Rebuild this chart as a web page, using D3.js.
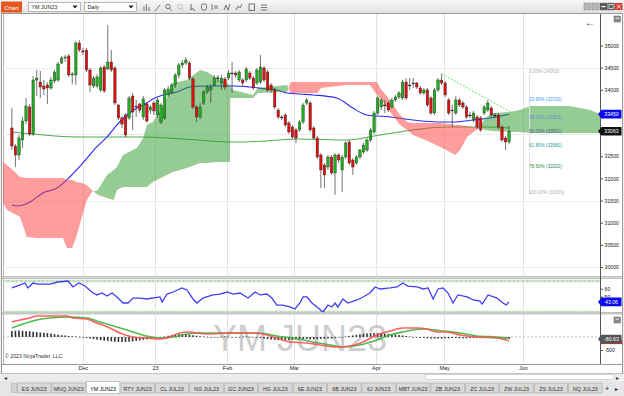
<!DOCTYPE html>
<html><head><meta charset="utf-8">
<script src="https://cdn.jsdelivr.net/npm/d3@7"></script>
<style>body{margin:0;background:#f0f0f0;overflow:hidden}svg{display:block;font-family:"Liberation Sans",Arial,sans-serif}</style>
</head><body><svg id="c" width="624" height="396"></svg>
<script>
// ---------------- DATA ----------------
const barO = [33138,32731,32528,32867,33296,33612,33002,34221,34176,34086,34108,34041,34199,34221,34605,34718,34763,34334,34334,35056,34876,34898,34447,34086,34086,33996,34515,34470,34628,34492,33657,33364,33431,33364,33860,33634,33680,33386,33680,33544,33702,33431,33273,33364,33883,33950,34108,34334,34560,34605,34605,34244,33612,33386,33702,33950,33996,34108,34266,34154,34244,34266,34379,34379,34221,34221,34221,34379,34266,34154,34176,34492,34402,34108,33996,33544,33386,33431,33251,33160,33093,33093,33273,33702,33702,33138,32912,32528,32303,32257,32483,32122,32528,32190,32483,32822,32415,32348,32483,32596,32641,32867,33048,33476,33612,33657,33702,33612,33770,33838,33815,34176,34108,34154,34154,34041,33928,33996,33815,33476,33996,34221,34154,33770,33544,33476,33770,33702,33612,33431,33318,33386,33364,33476,33544,33589,33431,33431,33160,32912,32822];
const barH = [33589,32777,32980,33386,33815,33680,34312,34447,34424,34221,34176,34289,34447,34628,34763,34786,34808,34402,35102,35124,34944,34944,34492,34312,34357,34537,34560,35463,34898,34537,33680,33409,33476,33860,33928,33770,33702,33860,33725,33657,33747,33815,33702,34041,34086,34154,34379,34605,34673,34740,34650,34289,33657,33702,33996,34108,34131,34334,34334,34334,34289,34447,34628,34424,34447,34266,34515,34424,34312,34492,34786,34537,34447,34154,34041,33589,33431,33476,33296,33206,33138,33318,33702,33815,33747,33183,32957,32573,32348,32528,32528,32573,32573,32528,32844,32867,32461,32528,32664,32799,32912,33138,33522,33860,33815,33770,33747,33815,33883,33973,34221,34266,34266,34266,34176,34086,34041,34041,33860,34041,34266,34363,34199,33815,33657,33860,33815,33747,33657,33499,33522,33431,33409,33657,33770,33634,33476,33476,33206,32957,33183];
const barL = [32641,32257,32415,32686,33228,32957,32957,33860,33815,33883,33680,33996,34154,34176,34582,34628,34289,34131,34108,34853,34786,34402,33950,34041,34041,33950,33928,34447,34402,33657,33318,33138,32935,33318,33093,33386,33476,33318,33251,33454,33431,33364,33228,33318,33838,33905,34041,34266,34492,34560,34221,33567,33273,33341,33657,33905,33702,34063,34176,33996,33996,34221,33928,34266,34176,34086,34176,34221,33996,34108,34131,34176,33950,33928,33567,33341,33318,33160,33002,32890,32799,33048,33228,33657,33048,32867,32438,31783,31783,32190,32077,31630,32348,31693,32438,32303,32077,32303,32438,32551,32596,32822,33002,33431,33544,33476,33499,33567,33725,33792,33770,33770,33996,34041,34018,33883,33883,33612,33431,33431,33950,34108,33838,33431,33160,33431,33612,33567,33341,33364,33273,33115,33048,33431,33499,33386,33364,33115,32822,32641,32777];
const barC = [32731,32528,32912,33296,33634,33002,34221,34266,34063,34018,34041,34221,34402,34582,34718,34740,34334,34357,35056,34898,34853,34447,34108,34266,34289,34492,33973,34628,34447,33702,33364,33228,32980,33815,33499,33612,33544,33792,33296,33612,33522,33770,33657,33996,34018,34108,34334,34560,34605,34673,34266,33612,33386,33612,33950,34063,34063,34266,34270,34266,34063,34379,34370,34334,34402,34154,34470,34266,34041,34447,34515,34221,33996,33996,33612,33386,33380,33206,33048,32935,32912,33273,33657,33770,33093,32912,32483,32190,32077,32483,32122,32528,32415,32483,32799,32348,32257,32483,32641,32754,32867,33093,33476,33815,33770,33650,33544,33770,33838,33928,34176,33815,34100,34150,34063,33928,33996,33657,33476,33996,34221,34154,33883,33476,33540,33770,33657,33612,33386,33425,33476,33160,33093,33612,33702,33431,33420,33160,32867,32822,33063];

// Ichimoku cloud (senkou span A / B), bar index positions
const cloudIdx = [-2.5,-1.4,0.3,2.3,4.2,7,14.4,15.5,17,18.3,19.7,21.1,22.5,24.2,26.8,28.7,29.6,31.3,35.2,37,38,39.7,42.5,45.4,49.3,53,55,57.7,61.4,61.5,62.3,67.9,69.3,77.5,78.5,86,87,94.4,100.8,102.8,103.7,106.5,109.3,111.3,113,117.7,120.6,123.4,124.8,126.2,128.2,129.9,131.8,133.2,135.5,140.3,143,146,157,162.8,165.6];
const spanA = [31445,31287,31219,31129,30677,30655,30655,30429,30429,30722,31129,31513,31693,31738,32077,32190,32257,32528,32686,32912,33206,33273,33612,34154,34221,34447,34402,34266,34108,34086,33996,33883,34041,34108,33928,33928,34041,34108,34108,33883,33815,33499,33206,33093,32980,32822,32709,32596,32528,32641,32935,33048,33138,33364,33476,33499,33544,33634,33634,33544,33454];
const spanB = [32370,32303,32190,32032,32009,32009,32009,31964,31964,31919,31896,31852,31738,31625,31558,31513,31738,31806,31806,31806,31806,31919,32032,32145,32235,32348,32348,32370,32370,33815,33815,33815,33928,33950,34176,34176,34176,34176,34176,34176,34041,33770,33431,33273,33251,33251,33251,33228,33206,33206,33183,33160,33160,33093,33070,33048,33048,33025,33025,33025,33025];

// moving averages (blue = 50, green = 200)
const smaFastIdx = [0,1.7,5.1,8.7,12.7,16.3,20,23.9,26.8,29.6,32.4,35.2,38,39.7,42.5,46.5,50.1,54.9,62.3,67,71.8,74.6,77.5,81.1,84.8,91.5,96,100,106.5,113,119.7,124.2,129.9,134.6,140];
const smaFast = [31400,31377,31468,31671,31784,32032,32348,32709,32935,33206,33431,33589,33702,33792,33883,33950,34063,34086,34086,34063,34018,33996,33928,33905,33883,33815,33589,33431,33386,33318,33273,33273,33318,33364,33450];
const smaSlowIdx = [0,5.9,18.3,36,48.2,61.4,71.8,80.3,94.4,103.7,113,122.5,133.8,140];
const smaSlow = [33048,33002,32935,32935,32890,32822,32844,32890,32867,32980,33093,33160,33160,33138];

// trend line & fibonacci
const trendIdx = [121, 142.5];
const trendVal = [34363, 33409];
const fibPct = ["0.00%","23.60%","38.20%","50.00%","61.80%","78.60%","100.00%"];
const fibVal = [34363,33720,33323,33001,32680,32202,31630];
const fibColor = ["#b0b0b0","#3d9af0","#5a8fd0","#3f5f86","#2a9d8f","#2e8b57","#b0b0b0"];

// RSI
const rsiIdx = [0,1.4,3.7,4.5,5.9,7.3,10.7,13,15.8,17.2,18.9,20.6,22.5,23.9,25.4,26.8,28.2,29.6,31.3,32.7,34.1,36.1,38,41.7,42.3,43.7,45.4,47.9,49.3,51,52.1,53.8,56.6,58.6,60.6,62.3,64.2,66.5,68.5,69.9,71.8,73.2,74.6,76.3,78.3,79.7,81.1,82,83.1,84.5,85.9,87.6,89,90.1,91,91.8,93.2,94.6,97.2,98.9,100.8,102.3,103.7,106.5,108.5,110.1,111.5,114.1,115.8,117.2,118.6,120,121.4,122.8,124.2,125.6,128.2,129.9,131.8,132.4,134.1,136.6,138.3,139.2,140];
const rsiVal = [61,63.5,67.4,61,67.4,66,66,68.7,70,62.3,67.4,63.5,55.8,52,54.5,50.6,54.5,49.4,41.6,41.6,48,48,46.8,49.4,42.9,53.2,55.8,61,58.4,46.8,41.6,48,52,53.2,55.8,53.2,54.5,48,55.8,52,53.2,48,39,39,36.5,33.9,41.6,49.4,49.4,41.6,36.5,30,39,36.5,41.6,36.5,46.8,41.6,45.5,49.4,54.5,62.3,59.7,61,62.3,67.4,63.5,62.3,59.7,61,46.8,59.7,61,54.5,41.6,52,49.4,45.5,44.2,40.3,52,48,41.6,39,43.06];
const rsiTicks = [60,50];

// MACD
const macdIdx = [0,2.3,5.1,7,15.5,17.2,21.1,23.9,27.6,30.4,34.1,38,41.7,43.7,47.3,50.1,52.1,54.9,62.3,67.9,71.8,74.6,78.3,83.1,86.8,91.5,95.2,98.9,102.8,106.5,110.1,114.1,116.9,119.7,122.5,126.2,130.9,136.6,140];
const macdVal = [578,655,732,809,809,732,693,539,347,154,0,-39,-77,-39,154,193,154,116,154,154,77,-39,-193,-231,-308,-385,-347,-193,77,231,347,347,308,193,193,77,0,-39,-154];
const sigIdx = [0,3.1,7,10.7,16.3,21.1,24.8,29.6,34.1,38,41.7,45.4,49.3,53,62.3,69.9,74.6,79.1,84.8,89.6,93.2,98,102.8,106.5,110.1,115.7,121.4,126.2,130.9,136.6,140];
const sigVal = [347,501,655,732,770,732,578,385,193,39,-39,0,116,154,154,154,39,-39,-193,-308,-385,-308,-116,77,193,308,231,154,39,0,-39];
const histVal = [230,240,250,240,230,220,200,190,170,160,150,130,110,90,70,60,40,30,20,10,-20,-40,-60,-80,-100,-120,-140,-150,-170,-180,-190,-190,-190,-180,-170,-150,-130,-110,-90,-70,-50,-30,-10,20,50,80,100,110,110,100,90,70,50,30,20,10,0,-10,0,10,20,10,0,-10,0,10,20,10,0,-20,-40,-60,-80,-100,-110,-120,-120,-130,-120,-110,-100,-90,-80,-80,-90,-90,-80,-70,-70,-60,-60,-40,-20,0,20,40,60,80,100,120,140,150,150,150,140,130,120,110,100,80,60,40,20,0,-20,-30,-40,-50,-60,-60,-60,-60,-50,-50,-40,-40,-50,-50,-50,-40,-40,-40,-40,-30,-30,-40,-40,-50,-60,-70,-80.63];

// axes / labels (ticks hidden under the value tags are left out, as in the reference)
const priceTicks = [30000,30500,31000,31500,32000,32500,34000,34500,35000];
const priceGrid = [30000,31500,33000,34500];
const monthIdx = [20,40.3,60.6,79.4,102.5,121.7,143.9];
const monthLab = ["Dec","23","Feb","Mar","Apr","May","Jun"];
const tabs = ["ES JUN23","MNQ JUN23","YM JUN23","RTY JUN23","CL JUL23","NG JUL23","GC JUN23","HG JUL23","6E JUN23","6B JUN23","6J JUN23","MBT JUN23","ZB JUN23","ZC JUL23","ZW JUL23","ZS JUL23","NQ JUL23"];
const lastPrice = 33063, lastSma = 33450, lastRsi = 43.06, lastHist = -80.63;

// ---------------- DRAW ----------------
const svg = d3.select('#c');
const L = 3, R = 600;
const mainT = 14, mainB = 276, rsiT = 278, rsiB = 312.5, macdT = 314, macdB = 364;
const x = d3.scaleLinear().domain([-2.5,165.6]).range([L,R]);
const y = d3.scaleLinear().domain([30000,35000]).range([267,45.5]);
const yR = d3.scaleLinear().domain([30,70]).range([312,281]);
const yM = d3.scaleLinear().domain([-500,0]).range([350,337]);

const defs = svg.append('defs');
function clip(id,x0,y0,w,h){defs.append('clipPath').attr('id',id).append('rect').attr('x',x0).attr('y',y0).attr('width',w).attr('height',h);}
clip('cm',L,mainT,R-L,mainB-mainT); clip('cr',L,rsiT,R-L,rsiB-rsiT); clip('cmd',L,macdT,R-L,macdB-macdT);
const tg = defs.append('linearGradient').attr('id','tb').attr('x1',0).attr('x2',0).attr('y1',0).attr('y2',1);
tg.append('stop').attr('offset',0).attr('stop-color','#f7f7f7'); tg.append('stop').attr('offset',1).attr('stop-color','#e2e2e2');

// background & frames
svg.append('rect').attr('width',624).attr('height',396).attr('fill','#f0f0f0');
svg.append('rect').attr('x',0).attr('y',0).attr('width',624).attr('height',13).attr('fill','url(#tb)');
svg.append('rect').attr('x',1.5).attr('y',13.5).attr('width',621).attr('height',360).attr('fill','#fff').attr('stroke','#9a9a9a');
svg.append('line').attr('x1',3.5).attr('x2',3.5).attr('y1',14).attr('y2',364).attr('stroke','#b5b5b5');
[[276.5,278.5],[312.5,314]].forEach(([a,b])=>{
  svg.append('rect').attr('x',2).attr('y',a).attr('width',620).attr('height',b-a).attr('fill','#dcdcdc');
  svg.append('line').attr('x1',2).attr('x2',622).attr('y1',a).attr('y2',a).attr('stroke','#a8a8a8').attr('stroke-width',0.7);
  svg.append('line').attr('x1',2).attr('x2',622).attr('y1',b).attr('y2',b).attr('stroke','#a8a8a8').attr('stroke-width',0.7);
});
svg.append('line').attr('x1',2).attr('x2',622).attr('y1',364.5).attr('y2',364.5).attr('stroke','#9a9a9a');

// vertical grid
[[mainT,mainB],[rsiT,rsiB],[macdT,macdB]].forEach(([a,b])=>{
  svg.append('g').selectAll('line').data(monthIdx).join('line')
    .attr('x1',d=>Math.round(x(d))+0.5).attr('x2',d=>Math.round(x(d))+0.5).attr('y1',a).attr('y2',b)
    .attr('stroke','#e3e3e3').attr('stroke-width',1);
});
svg.append('g').selectAll('line').data(priceGrid).join('line')
  .attr('x1',L).attr('x2',R).attr('y1',d=>Math.round(y(d))+0.5).attr('y2',d=>Math.round(y(d))+0.5)
  .attr('stroke','#ececec');

// ---- main panel ----
const gm = svg.append('g').attr('clip-path','url(#cm)');
const cloud = cloudIdx.map((i,k)=>({i,a:spanA[k],b:spanB[k]}));
const areaAB = d3.area().x(d=>x(d.i)).y0(d=>y(d.a)).y1(d=>y(d.b));
defs.append('clipPath').attr('id','cg').append('path').attr('d',d3.area().x(d=>x(d.i)).y0(0).y1(d=>y(d.b))(cloud));
defs.append('clipPath').attr('id','cre').append('path').attr('d',d3.area().x(d=>x(d.i)).y0(d=>y(d.b)).y1(400)(cloud));

const lineF = d3.line().x(d=>x(d[0])).y(d=>y(d[1])).curve(d3.curveMonotoneX);
gm.append('path').attr('d',lineF(smaSlowIdx.map((i,k)=>[i,smaSlow[k]]))).attr('fill','none').attr('stroke','#2f9f2f').attr('stroke-width',1.1).attr('opacity',0.85);
gm.append('path').attr('d',lineF(smaFastIdx.map((i,k)=>[i,smaFast[k]]))).attr('fill','none').attr('stroke','#2a2af5').attr('stroke-width',1.1);

gm.append('path').attr('d',areaAB(cloud)).attr('clip-path','url(#cg)').attr('fill','#2a9a2a').attr('fill-opacity',0.5);
gm.append('path').attr('d',areaAB(cloud)).attr('clip-path','url(#cre)').attr('fill','#ff3c3c').attr('fill-opacity',0.5);

gm.append('line').attr('x1',529.5).attr('x2',529.5).attr('y1',y(fibVal[0])).attr('y2',y(fibVal[6])).attr('stroke','#e2e2e2');

// candles
const bars = barC.map((c,i)=>({i,o:barO[i],h:barH[i],l:barL[i],c}));
gm.append('g').selectAll('line').data(bars).join('line')
  .attr('x1',d=>x(d.i)).attr('x2',d=>x(d.i)).attr('y1',d=>y(d.h)).attr('y2',d=>y(d.l))
  .attr('stroke','#3a3a3a').attr('stroke-width',0.7);
gm.append('g').selectAll('rect').data(bars).join('rect')
  .attr('x',d=>x(d.i)-1.25).attr('width',2.5)
  .attr('y',d=>y(Math.max(d.o,d.c))).attr('height',d=>Math.max(0.9,Math.abs(y(d.o)-y(d.c))))
  .attr('fill',d=>Math.abs(d.c-d.o)<15?'#333':(d.c>d.o?'#1fae1f':'#e01010'))
  .attr('stroke','#1a1a1a').attr('stroke-width',0.35);

gm.append('line').attr('x1',x(trendIdx[0])).attr('x2',x(trendIdx[1])).attr('y1',y(trendVal[0])).attr('y2',y(trendVal[1]))
  .attr('stroke','#55dd55').attr('stroke-width',0.9).attr('stroke-dasharray','2,1.5');

svg.append('g').selectAll('text').data(fibVal).join('text')
  .attr('x',529).attr('y',(d)=>y(d)-1.2).attr('font-size',4.6).attr('fill',(d,k)=>fibColor[k])
  .text((d,k)=>`${fibPct[k]} (${d})`);

// ---- RSI panel ----
const gr = svg.append('g').attr('clip-path','url(#cr)');
[70,30].forEach(v=>{
  gr.append('rect').attr('x',L).attr('width',R-L).attr('y',yR(v)-1.3).attr('height',2.6).attr('fill','#cfe7cf');
  gr.append('line').attr('x1',L).attr('x2',R).attr('y1',yR(v)).attr('y2',yR(v)).attr('stroke','#6fb86f').attr('stroke-width',0.8).attr('stroke-dasharray','1.2,3.2');
});
gr.append('path').attr('d',d3.line().x(d=>x(d[0])).y(d=>yR(d[1]))(rsiIdx.map((i,k)=>[i,rsiVal[k]])))
  .attr('fill','none').attr('stroke','#3f3ff2').attr('stroke-width',1.3);

// ---- MACD panel ----
svg.append('text').attr('x',300).attr('y',351).attr('text-anchor','middle').attr('font-size',36)
  .attr('fill','#bdbdbd').attr('fill-opacity',0.75).text('YM JUN23');
const gd = svg.append('g').attr('clip-path','url(#cmd)');
gd.append('line').attr('x1',L).attr('x2',R).attr('y1',yM(0)).attr('y2',yM(0)).attr('stroke','#999').attr('stroke-width',0.6).attr('stroke-dasharray','2,2');
gd.append('g').selectAll('rect').data(histVal).join('rect')
  .attr('x',(d,i)=>x(i)-0.8).attr('width',1.6)
  .attr('y',d=>Math.min(yM(d),yM(0))).attr('height',d=>Math.max(0.6,Math.abs(yM(d)-yM(0))))
  .attr('fill','#333');
const lineM = d3.line().x(d=>x(d[0])).y(d=>yM(d[1])).curve(d3.curveMonotoneX);
gd.append('path').attr('d',lineM(sigIdx.map((i,k)=>[i,sigVal[k]]))).attr('fill','none').attr('stroke','#3cb43c').attr('stroke-width',1.6).attr('opacity',0.9);
gd.append('path').attr('d',lineM(macdIdx.map((i,k)=>[i,macdVal[k]]))).attr('fill','none').attr('stroke','#ff5050').attr('stroke-width',1.6).attr('opacity',0.9);
svg.append('text').attr('x',5).attr('y',358).attr('font-size',5.2).attr('fill','#333').text('© 2023 NinjaTrader, LLC');

// ---- right axes ----
svg.append('line').attr('x1',600.5).attr('x2',600.5).attr('y1',14).attr('y2',364).attr('stroke','#555');
function styleAx(a){a.select('.domain').remove();a.selectAll('text').attr('font-size',5.2).attr('fill','#222').attr('x',4).attr('font-family','Liberation Sans, Arial');a.selectAll('line').attr('stroke','#555');}
styleAx(svg.append('g').attr('transform','translate(600.5,0)').call(d3.axisRight(y).tickValues(priceTicks).tickSize(2.5).tickFormat(d3.format('d'))));
styleAx(svg.append('g').attr('transform','translate(600.5,0)').call(d3.axisRight(yR).tickValues(rsiTicks).tickSize(2.5)));
styleAx(svg.append('g').attr('transform','translate(600.5,0)').call(d3.axisRight(yM).tickValues([-500]).tickSize(2.5).tickFormat(d=>'-500')));

function tag(yy,txt,bg,fg){
  const g = svg.append('g');
  g.append('path').attr('d',`M598,${yy} L601.5,${yy-4.3} L621.5,${yy-4.3} L621.5,${yy+4.3} L601.5,${yy+4.3} Z`).attr('fill',bg);
  g.append('text').attr('x',611.5).attr('y',yy+1.9).attr('text-anchor','middle').attr('font-size',5.2).attr('fill',fg).text(txt);
}
tag(y(lastSma),String(lastSma),'#0a0af0','#fff');
tag(y(lastPrice),String(lastPrice),'#111','#fff');
tag(yR(lastRsi),lastRsi.toFixed(2),'#0a0af0','#fff');
svg.append('rect').attr('x',601).attr('y',yM(lastHist)+1).attr('width',21).attr('height',4).attr('fill','#e03030');
tag(yM(lastHist),lastHist.toFixed(2),'#555','#fff');
[[614,16],[614,317]].forEach(([a,b])=>{
  svg.append('rect').attr('x',a).attr('y',b).attr('width',6.5).attr('height',6).attr('fill','#8a8a8a').attr('stroke','#666').attr('stroke-width',0.5);
  svg.append('rect').attr('x',a+1.5).attr('y',b+1.5).attr('width',3.5).attr('height',1.2).attr('fill','#ddd');
});
svg.append('text').attr('x',590).attr('y',25.5).attr('text-anchor','middle').attr('font-size',10).attr('fill','#111').text('←');

// ---- x axis ----
const axX = svg.append('g').attr('transform','translate(0,364.5)').call(d3.axisBottom(x).tickValues(monthIdx).tickSize(0).tickFormat((d,k)=>monthLab[k]));
axX.select('.domain').remove();
axX.selectAll('text').attr('font-size',5.5).attr('fill','#222').attr('dy','0.6em').attr('y',2.5).attr('font-family','Liberation Sans, Arial');

// ---- scrollbar ----
svg.append('rect').attr('x',2).attr('y',373.5).attr('width',620).attr('height',7).attr('fill','#ececec');
svg.append('text').attr('x',3.5).attr('y',380).attr('font-size',5.5).attr('fill','#333').text('◂');
svg.append('rect').attr('x',425.5).attr('y',374.5).attr('width',188).attr('height',5).attr('fill','#fff').attr('stroke','#bdbdbd').attr('stroke-width',0.6);
svg.append('text').attr('x',616).attr('y',380).attr('font-size',5.5).attr('fill','#333').text('▸');

// ---- tabs ----
svg.append('rect').attr('x',0).attr('y',381).attr('width',624).attr('height',15).attr('fill','#e6e6e6');
svg.append('rect').attr('x',11.5).attr('y',383.5).attr('width',5).attr('height',9).attr('fill','#d4d4d4').attr('stroke','#aaa').attr('stroke-width',0.5);
const tw = 34.45;
const tg2 = svg.append('g').selectAll('g').data(tabs).join('g').attr('transform',(d,k)=>`translate(${17+k*tw},0)`);
tg2.append('rect').attr('x',0.5).attr('y',(d,k)=>k===2?381.5:383).attr('width',tw-1).attr('height',(d,k)=>k===2?12:10)
  .attr('fill',(d,k)=>k===2?'#fff':'#d9d9d9').attr('stroke','#a9a9a9').attr('stroke-width',0.6);
tg2.append('text').attr('x',tw/2).attr('y',390.5).attr('text-anchor','middle').attr('font-size',5.3)
  .attr('fill',(d,k)=>k===2?'#000':'#333').text(d=>d);
svg.append('text').attr('x',605).attr('y',391).attr('font-size',7).attr('fill','#222').text('+');
svg.append('text').attr('x',615).attr('y',391).attr('font-size',6).attr('fill','#222').text('▸');

// ---- toolbar ----
svg.append('rect').attr('x',1).attr('y',1.5).attr('width',21).attr('height',11).attr('fill','#e4561e');
svg.append('text').attr('x',11.5).attr('y',9.6).attr('text-anchor','middle').attr('font-size',6).attr('fill','#fff').text('Chart');
[[28.5,'YM JUN23'],[84.5,'Daily']].forEach(([a,t])=>{
  svg.append('rect').attr('x',a).attr('y',2.5).attr('width',52).attr('height',9).attr('fill','#fff').attr('stroke','#8c8c8c').attr('stroke-width',0.6);
  svg.append('text').attr('x',a+3).attr('y',9.3).attr('font-size',5.3).attr('fill','#222').text(t);
  svg.append('path').attr('d',`M${a+44},5.5 L${a+49},5.5 L${a+46.5},8.5 Z`).attr('fill','#222');
});
const ic = svg.append('g').attr('stroke','#555').attr('stroke-width',0.8).attr('fill','none');
ic.append('path').attr('d','M144,11 V6 M146.5,11 V4 M149,11 V7');
ic.append('path').attr('d','M155,11 L160,5');
ic.append('circle').attr('cx',168).attr('cy',6.5).attr('r',2.2); ic.append('path').attr('d','M169.6,8.2 L171.5,10.5');
ic.append('circle').attr('cx',180).attr('cy',6.5).attr('r',2.2).attr('stroke','#bbb'); ic.append('path').attr('d','M181.6,8.2 L183.5,10.5').attr('stroke','#bbb');
ic.append('path').attr('d','M191,4 L191,10 L193,8.5 L195,11').attr('stroke','#444');
ic.append('rect').attr('x',201.5).attr('y',4).attr('width',5).attr('height',6).attr('rx',1.5);
ic.append('path').attr('d','M212,4 V10 M214,6 H218 M214,8 H218');
ic.append('path').attr('d','M224,10 L226,5 L228,10 L230,4');
ic.append('path').attr('d','M236,10 L238,6 L240,8 L242,4');
ic.append('rect').attr('x',249).attr('y',4).attr('width',5.5).attr('height',6.5);
ic.append('path').attr('d','M261,5 H267 M261,7.5 H267 M261,10 H267');
[[584,'#b8b8b8'],[592,'#b8b8b8'],[600,'#555'],[607.5,'#555']].forEach(([a,c])=>{
  svg.append('rect').attr('x',a).attr('y',3).attr('width',7).attr('height',7).attr('fill',c).attr('stroke','#777').attr('stroke-width',0.4);
});
svg.append('rect').attr('x',601.5).attr('y',6).attr('width',4).attr('height',1.2).attr('fill','#fff');
svg.append('rect').attr('x',609).attr('y',4.5).attr('width',4).attr('height',4).attr('fill','none').attr('stroke','#fff').attr('stroke-width',0.7);
svg.append('rect').attr('x',615).attr('y',3).attr('width',7.5).attr('height',7).attr('fill','#d63a2c');
svg.append('path').attr('d','M616.8,4.6 L620.8,8.6 M620.8,4.6 L616.8,8.6').attr('stroke','#fff').attr('stroke-width',0.9);
</script></body></html>
